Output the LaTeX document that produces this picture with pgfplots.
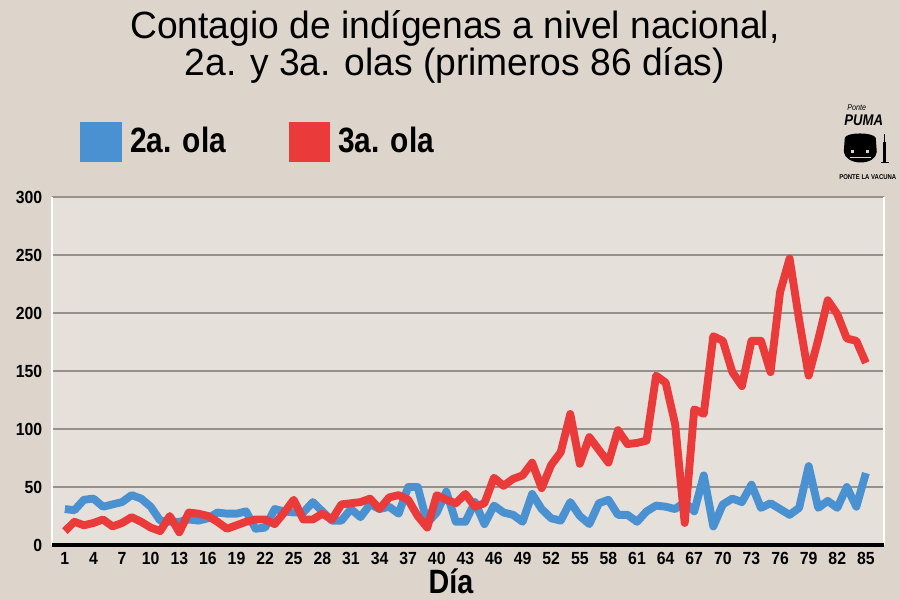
\documentclass[border=0pt]{standalone}
\usepackage{pgfplots}
\pgfplotsset{compat=1.18}
\usepackage{pgfplotstable}
\usepackage{fontspec}
\setmainfont{Liberation Sans}[FakeStretch=0.85]
\newfontfamily\titlefont{Liberation Sans}[FakeStretch=0.98]
\newfontfamily\tickfont{Liberation Sans}[FakeStretch=0.9]
\definecolor{outerbg}{RGB}{221,213,204}
\definecolor{plotbg}{RGB}{230,224,218}
\definecolor{blueline}{RGB}{74,145,210}
\definecolor{redline}{RGB}{234,58,58}
\definecolor{gridgray}{RGB}{150,145,140}

\pgfplotstableread{
d v
1 31
2 30
3 39
4 40
5 33
6 35
7 37
8 43
9 40
10 33
11 21
12 20
13 20
14 22
15 21
16 23
17 28
18 27
19 27
20 29
21 14
22 15
23 31
24 29
25 28
26 28
27 37
28 29
29 21
30 21
31 31
32 24
33 35
34 31
35 33
36 27
37 50
38 50
39 19
40 28
41 46
42 20
43 20
44 37
45 18
46 34
47 28
48 26
49 20
50 44
51 31
52 23
53 21
54 37
55 25
56 18
57 36
58 39
59 26
60 26
61 20
62 29
63 34
64 33
65 31
66 37
67 29
68 60
69 16
70 35
71 40
72 37
73 52
74 32
75 36
76 31
77 26
78 32
79 68
80 32
81 38
82 32
83 50
84 33
85 62
}\olados

\pgfplotstableread{
d v
1 12
2 20
3 17
4 19
5 22
6 16
7 19
8 24
9 20
10 15
11 12
12 25
13 11
14 28
15 27
16 25
17 20
18 14
19 17
20 20
21 22
22 22
23 18
24 28
25 39
26 22
27 22
28 27
29 22
30 35
31 36
32 37
33 40
34 31
35 41
36 43
37 39
38 25
39 15
40 43
41 39
42 36
43 44
44 33
45 36
46 58
47 51
48 57
49 60
50 71
51 49
52 69
53 80
54 113
55 70
56 93
57 82
58 71
59 99
60 87
61 88
62 90
63 146
64 140
65 104
66 19
67 117
68 113
69 180
70 176
71 149
72 137
73 176
74 176
75 149
76 218
77 247
78 194
79 146
80 177
81 211
82 199
83 178
84 176
85 157
}\olatres

\begin{document}
\begin{tikzpicture}
\path[use as bounding box] (0,0) rectangle (22.5cm,15cm);
\clip (0,0) rectangle (22.5cm,15cm);
\fill[outerbg] (0,0) rectangle (22.5cm,15cm);
\begin{scope}[x=0.025cm,y=-0.025cm,shift={(0,15cm)}]
  % title
  \node[anchor=base, inner sep=0pt, font=\fontsize{27}{28}\titlefont] at (455,39) {Contagio de indígenas a nivel nacional,};
  \node[anchor=base, inner sep=0pt, font=\fontsize{27}{28}\titlefont] at (455,76) {2a. y 3a. olas (primeros 86 días)};
  % legend
  \fill[blueline] (80,122) rectangle (122,162);
  \node[anchor=base west, inner sep=0pt, font=\fontsize{25}{26}\selectfont\bfseries] at (130,153) {2a. ola};
  \fill[redline] (289,122) rectangle (330,162);
  \node[anchor=base west, inner sep=0pt, font=\fontsize{25}{26}\selectfont\bfseries] at (338,153) {3a. ola};
  % x label
  \node[anchor=base, inner sep=0pt, font=\fontsize{24}{25}\selectfont\bfseries] at (451,594) {Día};
  % logo
  \node[anchor=base, inner sep=0pt, font=\fontsize{6}{6}\selectfont\itshape] at (857,111) {Ponte};
  \node[anchor=base, inner sep=0pt, font=\fontsize{11}{11}\selectfont\bfseries\itshape] at (864,126) {PUMA};
  \fill[black] (845,138) .. controls (846,132) and (874,132) .. (876,138) -- (877,152) .. controls (876,166) and (846,166) .. (844,152) -- cycle;
  \fill[outerbg] (851,150) rectangle (854,153);
  \fill[outerbg] (866,150) rectangle (869,153);
  \draw[outerbg, line width=0.6pt] (850,157) -- (871,157);
  \draw[black, line width=2.2pt] (885,142) -- (885,162);
  \draw[black, line width=0.7pt] (885,134) -- (885,142) (881,163) -- (889,163);
  \node[anchor=base, inner sep=0pt, font=\fontsize{5}{5}\selectfont\bfseries] at (868,180) {PONTE LA VACUNA};
\end{scope}
\begin{axis}[
  at={(1.3cm,1.375cm)}, anchor=south west,
  scale only axis, width=20.8cm, height=8.7cm,
  xmin=-0.35, xmax=86.9, ymin=0, ymax=300,
  xtick={1,4,...,85}, ytick={0,50,...,300},
  major tick length=0pt,
  axis line style={draw=none},
  axis background/.style={fill=plotbg},
  ymajorgrids, grid style={gridgray, line width=1pt},
  ticklabel style={font=\fontsize{12.5}{13}\selectfont\tickfont\bfseries},
  /pgf/number format/assume math mode=true,
  yticklabel style={xshift=-0.12cm},
  xticklabel style={yshift=-0.05cm},
  clip=false,
]
\draw[white, line width=1.6pt] (rel axis cs:0,0) -- (rel axis cs:0,1);
\draw[white, line width=1.6pt] (rel axis cs:1,0) -- (rel axis cs:1,1);
\draw[black, line width=2.8pt] (rel axis cs:0,0) -- (rel axis cs:1,0);
\addplot[blueline, line width=5.6pt, line join=round] table[x=d,y=v] {\olados};
\addplot[redline, line width=5.6pt, line join=round] table[x=d,y=v] {\olatres};
\end{axis}
\end{tikzpicture}
\end{document}
